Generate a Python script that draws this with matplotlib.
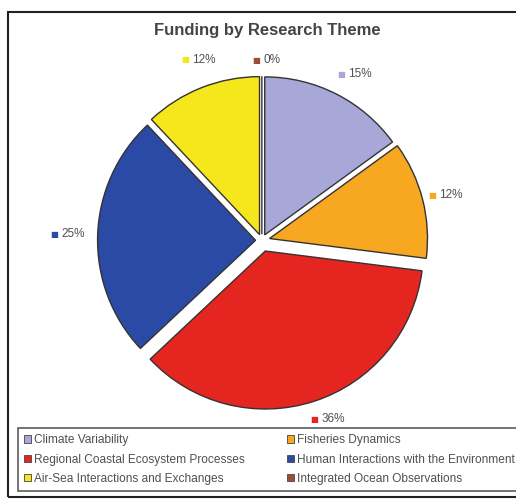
import matplotlib.pyplot as plt
import matplotlib.patches as mpatches
import numpy as np

plt.rcParams["font.family"] = ["Liberation Sans", "DejaVu Sans"]

# funding share by theme (percent), clockwise from 12 o'clock
themes = ["Climate Variability", "Fisheries Dynamics",
          "Regional Coastal Ecosystem Processes",
          "Human Interactions with the Environment",
          "Air-Sea Interactions and Exchanges",
          "Integrated Ocean Observations"]
shares = [15, 12, 36, 25, 12, 0]
colors = ["#a8a8d8", "#f8a720", "#e52520", "#2b4aa6", "#f6e61c", "#9b4f3a"]
explode = [0.04, 0.05, 0.07, 0.04, 0.04, 0.04]
label_dist = [1.18, 1.15, 1.19, 1.28, 1.23, 1.14]

fig = plt.figure(figsize=(5.16, 5.0), dpi=100)

# outer chart frame
fig.patches.append(mpatches.Rectangle((0.015, 0.006), 1.0, 0.97, transform=fig.transFigure,
                                      fill=False, edgecolor="#222222", linewidth=1.5))

ax = fig.add_axes([0.1095, 0.108, 0.796, 0.822])
wedges, _ = ax.pie(shares, colors=colors, startangle=90, counterclock=False,
                   explode=explode,
                   wedgeprops=dict(edgecolor="#333333", linewidth=1.0))
ax.set_xlim(-1.3, 1.3)
ax.set_ylim(-1.3, 1.3)
ax.set_aspect("equal")
ax.axis("off")

# percentage labels with a small coloured square
for w, s, c, d in zip(wedges, shares, colors, label_dist):
    mid = np.deg2rad((w.theta1 + w.theta2) / 2)
    x, y = d * np.cos(mid), d * np.sin(mid)
    ax.annotate("■", xy=(x, y), xytext=(-1, 0), textcoords="offset points",
                ha="right", va="center", fontsize=6, color=c,
                family=["DejaVu Sans"])
    ax.annotate(f"{s}%", xy=(x, y), xytext=(1, 0), textcoords="offset points",
                ha="left", va="center", fontsize=8.5, color="#505050")

fig.text(0.518, 0.94, "Funding by Research Theme", ha="center", va="center",
         fontsize=12, fontweight="bold", color="#444444")

# legend filled row by row like the original
order = [0, 2, 4, 1, 3, 5]
handles = [mpatches.Patch(facecolor=colors[i], edgecolor="#444444", linewidth=0.6) for i in order]
leg = fig.legend(handles, [themes[i] for i in order], ncol=2, loc="lower left",
                 bbox_to_anchor=(0.035, 0.018, 0.975, 0.128), mode="expand",
                 borderaxespad=0, fontsize=8.6, frameon=True, fancybox=False,
                 handlelength=0.55, handleheight=0.55, handletextpad=0.3,
                 labelspacing=0.62, borderpad=0.5, columnspacing=1.0,
                 labelcolor="#505050")
leg.get_frame().set_edgecolor("#333333")
leg.get_frame().set_linewidth(1.2)

fig.savefig("out.png", dpi=100)
